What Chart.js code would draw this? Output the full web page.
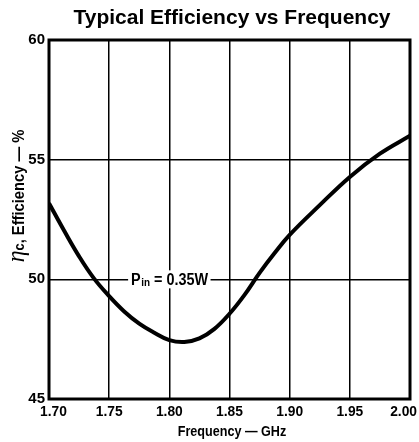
<!DOCTYPE html>
<html>
<head>
<meta charset="utf-8">
<title>Typical Efficiency vs Frequency</title>
<script src="https://cdn.jsdelivr.net/npm/chart.js@4/dist/chart.umd.min.js"></script>
<style>
  html, body { margin: 0; padding: 0; background: #fff; }
  #wrap { width: 419px; height: 442px; }
</style>
</head>
<body>
<div id="wrap"><canvas id="effChart" width="419" height="442"></canvas></div>
<script>
// --- Data ---
const freqGHz = [
    1.700, 1.7125, 1.725, 1.7375, 1.750, 1.7625, 1.775, 1.7875,
    1.800, 1.8125, 1.825, 1.8375, 1.850, 1.8625, 1.875, 1.8875,
    1.900, 1.925, 1.950, 1.975, 2.000
];
const efficiencyPct = [
    53.18, 52.04, 50.96, 50.03, 49.30, 48.66, 48.15, 47.77,
    47.46, 47.38, 47.53, 47.93, 48.56, 49.35, 50.27, 51.10,
    51.86, 53.10, 54.28, 55.25, 56.00
];
const xTicks = [1.70, 1.75, 1.80, 1.85, 1.90, 1.95, 2.00];
const yTicks = [45, 50, 55, 60];
const pinLabel = { x: 1.80, y: 50, text: ['P', 'in', ' = 0.35W'] };

const FONT = "'Liberation Sans', Arial, Helvetica, sans-serif";

// draw text squeezed horizontally to get a condensed look
function condensedText(ctx, text, x, y, squeeze) {
    ctx.save();
    ctx.translate(x, y);
    ctx.scale(squeeze, 1);
    ctx.fillText(text, 0, 0);
    ctx.restore();
}

// Titles, plot frame, x tick labels and the Pin note drawn on the canvas
const decorations = {
    id: 'decorations',
    afterDatasetsDraw(chart) {
        const { ctx, chartArea: a, scales } = chart;
        ctx.save();

        // heavy frame round the plot
        ctx.strokeStyle = '#000';
        ctx.lineWidth = 3;
        ctx.strokeRect(a.left, a.top, a.right - a.left, a.bottom - a.top);

        ctx.fillStyle = '#000';

        // x tick labels, kept inside the canvas
        ctx.font = 'bold 15px ' + FONT;
        ctx.textAlign = 'left';
        ctx.textBaseline = 'middle';
        const tsq = 0.92;
        xTicks.forEach(v => {
            const label = v.toFixed(2);
            const w = ctx.measureText(label).width * tsq;
            let x = scales.x.getPixelForValue(v) - w / 2;
            x = Math.max(x, 40);
            x = Math.min(x, chart.width - 2 - w);
            condensedText(ctx, label, x, a.bottom + 13, tsq);
        });

        // Pin = 0.35W note on the 50 % grid line
        const px = scales.x.getPixelForValue(pinLabel.x);
        const py = scales.y.getPixelForValue(pinLabel.y);
        const big = 'bold 16px ' + FONT;
        const small = 'bold 11px ' + FONT;
        const sq = 0.9;
        ctx.font = big;
        const wP = ctx.measureText(pinLabel.text[0]).width * sq;
        const wRest = ctx.measureText(pinLabel.text[2]).width * sq;
        ctx.font = small;
        const wSub = ctx.measureText(pinLabel.text[1]).width * sq;
        const total = wP + wSub + wRest;
        let tx = px - total / 2;
        ctx.fillStyle = '#fff';
        ctx.fillRect(tx - 3, py - 9, total + 6, 18);
        ctx.fillStyle = '#000';
        ctx.textBaseline = 'alphabetic';
        ctx.font = big;
        condensedText(ctx, pinLabel.text[0], tx, py + 6, sq);
        tx += wP + 0.5;
        ctx.font = small;
        condensedText(ctx, pinLabel.text[1], tx, py + 7, sq);
        tx += wSub;
        ctx.font = big;
        condensedText(ctx, pinLabel.text[2], tx, py + 6, sq);

        // chart title
        ctx.textAlign = 'center';
        ctx.textBaseline = 'middle';
        ctx.font = 'bold 21px ' + FONT;
        ctx.fillText('Typical Efficiency vs Frequency', 232, 18);

        // x axis title
        ctx.font = 'bold 15px ' + FONT;
        condensedText(ctx, 'Frequency \u2014 GHz', 232, 432, 0.84);

        // y axis title, rotated: eta_c, Efficiency — %
        ctx.translate(19, 196);
        ctx.rotate(-Math.PI / 2);
        ctx.scale(0.92, 1);
        ctx.textAlign = 'left';
        ctx.textBaseline = 'alphabetic';
        const parts = [
            { t: '\u03b7', f: 'italic 26px "Liberation Serif", serif', dy: 5 },
            { t: 'c', f: 'bold 14px ' + FONT, dy: 5 },
            { t: ', Efficiency \u2014 %', f: 'bold 16px ' + FONT, dy: 5 }
        ];
        let w = 0;
        parts.forEach(p => { ctx.font = p.f; p.w = ctx.measureText(p.t).width; w += p.w; });
        let cx = -w / 2;
        parts.forEach(p => {
            ctx.font = p.f;
            ctx.fillText(p.t, cx, p.dy);
            cx += p.w;
        });

        ctx.restore();
    }
};

new Chart(document.getElementById('effChart'), {
    type: 'line',
    data: {
        datasets: [{
            data: freqGHz.map((f, i) => ({ x: f, y: efficiencyPct[i] })),
            borderColor: '#000',
            borderWidth: 4,
            pointRadius: 0,
            tension: 0.4,
            fill: false
        }]
    },
    options: {
        responsive: false,
        animation: false,
        layout: { padding: { top: 40, right: 9, bottom: 0, left: 0 } },
        plugins: {
            legend: { display: false },
            tooltip: { enabled: false },
            title: { display: false }
        },
        scales: {
            x: {
                type: 'linear',
                min: 1.70,
                max: 2.00,
                afterBuildTicks: s => { s.ticks = xTicks.map(v => ({ value: v })); },
                afterFit: s => { s.height = 43; s.paddingLeft = 0; s.paddingRight = 0; },
                grid: { color: '#000', lineWidth: 1.5, drawTicks: false },
                border: { display: false },
                ticks: { display: false }
            },
            y: {
                min: 45,
                max: 60,
                afterBuildTicks: s => { s.ticks = yTicks.map(v => ({ value: v })); },
                afterFit: s => { s.width = 49; },
                grid: { color: '#000', lineWidth: 1.5, drawTicks: false },
                border: { display: false },
                ticks: {
                    padding: 4,
                    color: '#000',
                    font: { family: FONT, size: 15, weight: 'bold' }
                }
            }
        }
    },
    plugins: [decorations]
});
</script>
</body>
</html>
